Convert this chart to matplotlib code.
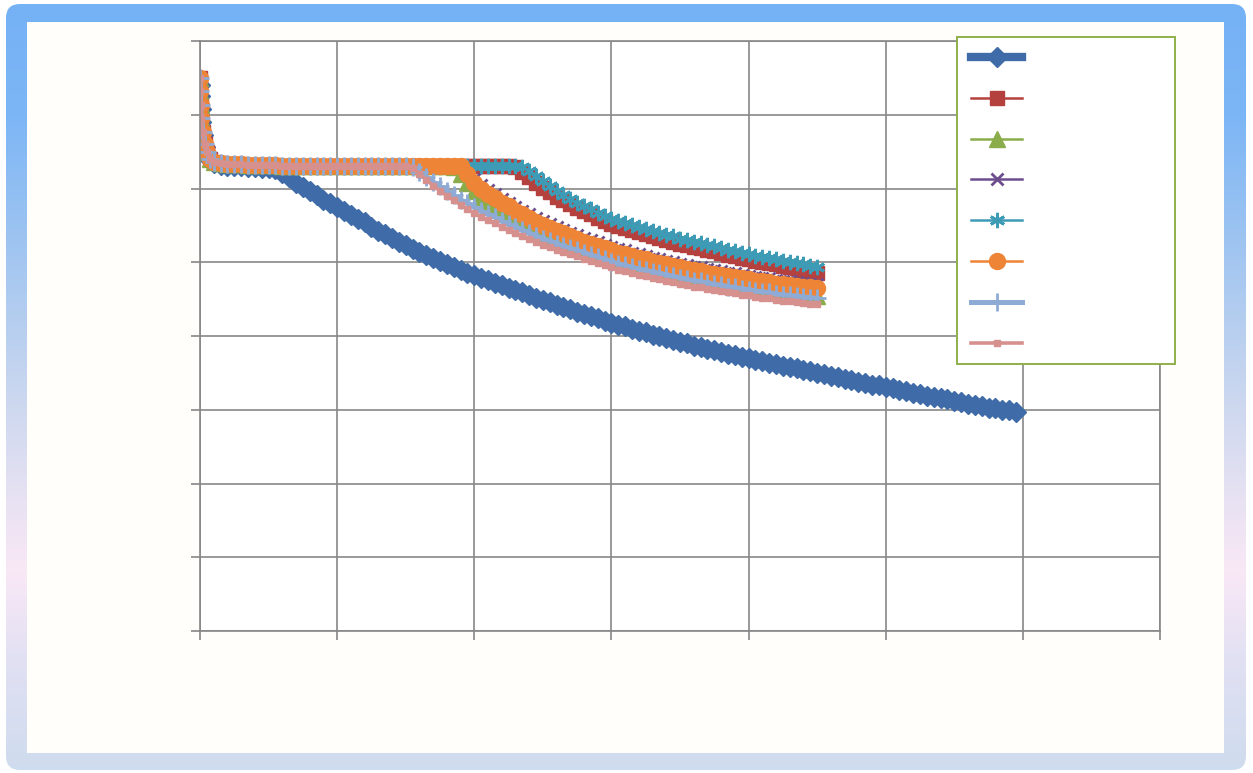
import numpy as np
import matplotlib
matplotlib.use('Agg')
from matplotlib import pyplot as plt
from matplotlib.colors import LinearSegmentedColormap
from matplotlib.patches import FancyBboxPatch, Rectangle

# sample times
t = [0, 0.02, 0.05, 0.1, 0.2, 0.35, 0.5, 0.75, 1.0,
	1.5, 2.0, 2.5, 3.0, 3.5, 4.0, 4.5, 5.0, 5.5, 6.0,
	6.5, 7.0, 7.5, 8.0, 8.5, 9.0, 9.5, 10.0, 10.5, 11.0,
	11.5, 12.0, 12.5, 13.0, 13.5, 14.0, 14.5, 15.0, 15.5, 16.0,
	16.5, 17.0, 17.5, 18.0, 18.5, 19.0, 19.5, 20.0, 20.5, 21.0,
	21.5, 22.0, 22.5, 23.0, 23.5, 24.0, 24.5, 25.0, 25.5, 26.0,
	26.5, 27.0, 27.5, 28.0, 28.5, 29.0, 29.5, 30.0, 30.5, 31.0,
	31.5, 32.0, 32.5, 33.0, 33.5, 34.0, 34.5, 35.0, 35.5, 36.0,
	36.5, 37.0, 37.5, 38.0, 38.5, 39.0, 39.5, 40.0, 40.5, 41.0,
	41.5, 42.0, 42.5, 43.0, 43.5, 44.0, 44.5, 45.0, 45.5, 46.0,
	46.5, 47.0, 47.5, 48.0, 48.5, 49.0, 49.5, 50.0, 50.5, 51.0,
	51.5, 52.0, 52.5, 53.0, 53.5, 54.0, 54.5, 55.0, 55.5, 56.0,
	56.5, 57.0, 57.5, 58.0, 58.5, 59.0, 59.5]

# initial drop, shared by all runs
head = [75.0, 73.2, 71.3, 69.5, 67.6, 66.0, 64.9, 64.0, 63.6]
head_1 = [74.0, 72.5, 70.8, 69.0, 67.2, 65.6, 64.6, 63.8, 63.4]

# flat stage from t=1.5 to t=22.5
plateau = [63.4, 63.3, 63.3, 63.3, 63.2, 63.2, 63.2, 63.2, 63.2, 63.1,
	63.1, 63.1, 63.1, 63.1, 63.1, 63.1, 63.1, 63.1, 63.1, 63.1,
	63.1, 63.1, 63.0, 63.0, 63.0, 63.0, 63.0, 63.0, 63.0, 63.0,
	63.0, 63.0, 63.0, 63.0, 63.0, 63.0, 63.0, 63.0, 63.0, 63.0,
	63.0, 63.0, 63.0]
plateau_1 = [63.2, 63.1, 63.0, 63.0, 62.9, 62.9, 62.8, 62.8]

# decline after each run leaves the flat stage
tail_1 = [62.6, 62.1, 61.5, 60.8, 60.2, 59.6, 59.1, 58.5, 58.0, 57.5,
	57.0, 56.4, 55.9, 55.4, 54.8, 54.3, 53.8, 53.3, 52.8, 52.3,
	51.8, 51.4, 51.0, 50.6, 50.2, 49.8, 49.4, 49.0, 48.6, 48.3,
	47.9, 47.6, 47.2, 46.9, 46.5, 46.2, 45.9, 45.5, 45.2, 44.9,
	44.6, 44.2, 43.9, 43.6, 43.3, 43.0, 42.7, 42.4, 42.1, 41.8,
	41.5, 41.3, 41.0, 40.7, 40.5, 40.2, 40.0, 39.7, 39.5, 39.2,
	39.0, 38.7, 38.5, 38.3, 38.1, 37.8, 37.6, 37.4, 37.2, 37.0,
	36.8, 36.6, 36.4, 36.2, 36.0, 35.8, 35.6, 35.4, 35.2, 35.0,
	34.8, 34.6, 34.4, 34.2, 34.0, 33.8, 33.6, 33.4, 33.3, 33.1,
	32.9, 32.7, 32.5, 32.3, 32.1, 31.9, 31.7, 31.6, 31.4, 31.2,
	31.0, 30.8, 30.7, 30.5, 30.3, 30.2, 30.0, 29.9, 29.7]
tail_2 = [62.9, 62.2, 61.5, 60.8, 60.1, 59.5, 58.9, 58.4, 57.9, 57.4,
	56.9, 56.5, 56.0, 55.6, 55.2, 54.9, 54.6, 54.4, 54.1, 53.8,
	53.5, 53.3, 53.0, 52.8, 52.5, 52.3, 52.1, 51.9, 51.7, 51.5,
	51.2, 51.0, 50.8, 50.6, 50.4, 50.2, 50.0, 49.9, 49.7, 49.5,
	49.3, 49.2, 49.0, 48.8, 48.6]
tail_3 = [62.9, 62.0, 60.8, 59.7, 58.9, 58.2, 57.6, 57.0, 56.5, 55.9,
	55.4, 54.9, 54.4, 54.0, 53.6, 53.2, 52.8, 52.4, 52.1, 51.7,
	51.4, 51.1, 50.8, 50.5, 50.2, 50.0, 49.7, 49.5, 49.3, 49.0,
	48.8, 48.6, 48.4, 48.2, 48.0, 47.8, 47.7, 47.5, 47.3, 47.2,
	47.0, 46.9, 46.7, 46.6, 46.4, 46.3, 46.2, 46.0, 45.9, 45.8,
	45.7, 45.6, 45.5, 45.4]
tail_4 = [63.0, 62.3, 61.3, 60.5, 59.8, 59.2, 58.6, 58.1, 57.5, 57.0,
	56.5, 56.0, 55.6, 55.2, 54.8, 54.4, 54.0, 53.7, 53.3, 53.0,
	52.7, 52.4, 52.1, 51.8, 51.6, 51.3, 51.1, 50.9, 50.6, 50.4,
	50.2, 50.0, 49.8, 49.6, 49.4, 49.3, 49.1, 48.9, 48.8, 48.6,
	48.5, 48.3, 48.2, 48.0, 47.9, 47.8, 47.6, 47.5, 47.4, 47.3,
	47.2, 47.1, 47.0]
tail_5 = [63.0, 62.9, 62.4, 61.7, 61.0, 60.3, 59.7, 59.1, 58.6, 58.1,
	57.6, 57.2, 56.7, 56.3, 55.9, 55.6, 55.3, 55.1, 54.8, 54.5,
	54.2, 54.0, 53.7, 53.5, 53.2, 53.0, 52.8, 52.6, 52.4, 52.2,
	51.9, 51.7, 51.5, 51.3, 51.1, 50.9, 50.7, 50.6, 50.4, 50.2,
	50.0, 49.9, 49.7, 49.5, 49.3]
tail_6 = [63.0, 61.9, 60.8, 60.0, 59.3, 58.7, 58.1, 57.6, 57.0, 56.5,
	56.0, 55.5, 55.1, 54.7, 54.3, 53.9, 53.5, 53.2, 52.8, 52.5,
	52.2, 51.9, 51.6, 51.3, 51.1, 50.8, 50.6, 50.4, 50.1, 49.9,
	49.7, 49.5, 49.3, 49.1, 48.9, 48.8, 48.6, 48.4, 48.3, 48.1,
	48.0, 47.8, 47.7, 47.5, 47.4, 47.3, 47.1, 47.0, 46.9, 46.8,
	46.7, 46.6, 46.5]
tail_7 = [62.9, 62.3, 61.6, 60.9, 60.3, 59.7, 59.1, 58.5, 58.0, 57.5,
	57.0, 56.5, 56.1, 55.6, 55.2, 54.8, 54.4, 54.0, 53.6, 53.2,
	52.9, 52.5, 52.2, 51.9, 51.6, 51.3, 51.0, 50.7, 50.4, 50.1,
	49.8, 49.6, 49.3, 49.1, 48.9, 48.7, 48.5, 48.3, 48.1, 47.9,
	47.7, 47.5, 47.4, 47.2, 47.0, 46.9, 46.7, 46.6, 46.4, 46.3,
	46.1, 46.0, 45.9, 45.7, 45.6, 45.5, 45.4, 45.3, 45.2, 45.1]
tail_8 = [62.8, 62.0, 61.2, 60.4, 59.7, 59.0, 58.4, 57.8, 57.2, 56.7,
	56.2, 55.7, 55.3, 54.8, 54.4, 54.0, 53.6, 53.2, 52.8, 52.4,
	52.1, 51.7, 51.4, 51.1, 50.8, 50.5, 50.2, 49.9, 49.6, 49.3,
	49.0, 48.8, 48.5, 48.3, 48.1, 47.9, 47.7, 47.5, 47.3, 47.1,
	46.9, 46.7, 46.6, 46.4, 46.2, 46.1, 45.9, 45.8, 45.6, 45.5,
	45.3, 45.2, 45.1, 44.9, 44.8, 44.7, 44.6, 44.5, 44.4, 44.3]

y1 = head_1 + plateau_1 + tail_1
y2 = head + plateau[:43] + tail_2
y3 = head + plateau[:34] + tail_3
y4 = head + plateau[:35] + tail_4
y5 = head + plateau[:43] + tail_5
y6 = head + plateau[:35] + tail_6
y7 = head + plateau[:28] + tail_7
y8 = head + plateau[:28] + tail_8

W, H = 1253, 773
fig = plt.figure(figsize=(W / 100, H / 100), dpi=100)

# rounded frame with vertical colour fade
bg = fig.add_axes([0, 0, 1, 1])
bg.set_xlim(0, W)
bg.set_ylim(H, 0)
bg.axis('off')
cmap = LinearSegmentedColormap.from_list('frame', [
	(0.0, '#74b1f6'), (0.15, '#7db6f5'), (0.3, '#9cc3f1'), (0.5, '#c8d6ef'),
	(0.65, '#e8e2f3'), (0.74, '#f9e8f6'), (0.85, '#e2e1f3'), (1.0, '#cfdbee')])
grad = np.linspace(0, 1, 256).reshape(-1, 1)
im = bg.imshow(grad, cmap=cmap, extent=(0, W, H, 0), aspect='auto')
outer = FancyBboxPatch((6, 4), 1240, 766, boxstyle='round,pad=0,rounding_size=14',
	facecolor='none', edgecolor='none')
bg.add_patch(outer)
im.set_clip_path(outer)
bg.add_patch(Rectangle((27, 22), 1197, 731, facecolor='#fffefa', edgecolor='none'))

ax = fig.add_axes([200 / W, (H - 631) / H, 960 / W, 590 / H])
ax.set_facecolor('white')

grey = '#878787'
lines = []
lines += ax.plot(t[:len(y1)], y1, color='#3f6ca8', lw=6, marker='D', ms=10.5, mec='#3f6ca8')
lines += ax.plot(t[:len(y2)], y2, color='#b5413f', lw=1.8, marker='s', ms=10.5, mec='#b5413f')
lines += ax.plot(t[:len(y3)], y3, color='#8bac4a', lw=1.8, marker='^', ms=11.5, mec='#8bac4a')
lines += ax.plot(t[:len(y4)], y4, color='#6c4d8e', lw=1.8, marker='x', ms=8.5, mew=2)
lines += ax.plot(t[:len(y5)], y5, color='#3e9bb5', lw=1.8, marker=(6, 2, 0), ms=11, mew=2)
lines += ax.plot(t[:len(y6)], y6, color='#ee8436', lw=1.8, marker='o', ms=11.5, mec='#ee8436')
lines += ax.plot(t[:len(y7)], y7, color='#8eabd6', lw=3.6, marker='+', ms=13, mew=2)
lines += ax.plot(t[:len(y8)], y8, color='#d6918f', lw=2.6, marker='s', ms=4, mec='#d6918f')

ax.set_xlim(0, 70)
ax.set_ylim(0, 80)
ax.set_xticks(range(0, 71, 10))
ax.set_yticks(range(0, 81, 10))
ax.grid(True, color=grey, lw=1.2)
ax.set_axisbelow(True)
for s in ax.spines.values():
	s.set_color(grey)
	s.set_linewidth(1.2)
ax.tick_params(direction='out', length=6.5, width=1.2, color=grey,
	labelleft=False, labelbottom=False)

leg = ax.legend(lines, [''] * 8, loc='upper left', mode='expand',
	bbox_to_anchor=(957 / W, (H - 364) / H, 218 / W, 327 / H),
	bbox_transform=fig.transFigure, fontsize=10, handlelength=3.7,
	labelspacing=1.93, borderpad=1.0, borderaxespad=0,
	fancybox=False, framealpha=1, facecolor='white', edgecolor='#8eb04a')
leg.get_frame().set_linewidth(1.4)

fig.savefig('out.png', dpi=100)
